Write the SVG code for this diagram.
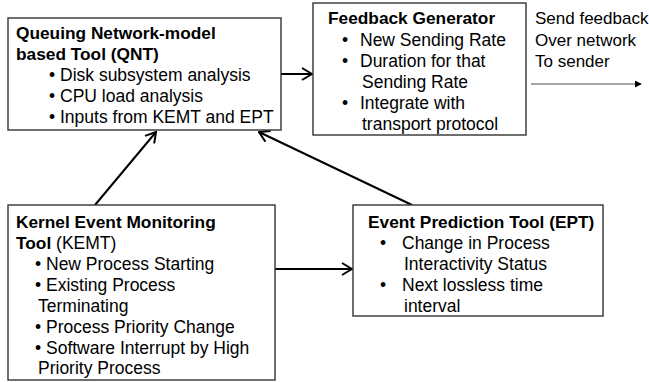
<svg xmlns="http://www.w3.org/2000/svg" width="649" height="382" viewBox="0 0 649 382">
<defs>
<style>
text{font-family:"Liberation Sans",Arial,sans-serif;font-size:17.5px;fill:#000}
.b{font-weight:bold;font-size:17.3px}
.side{font-size:17px}
.box{fill:#fff;stroke:#333;stroke-width:1.4}
.conn{stroke:#000;stroke-width:2;fill:none}
.send{stroke:#888;stroke-width:1.5;fill:none}
</style>
<marker id="open" viewBox="0 0 12 14" refX="11" refY="7" markerWidth="12" markerHeight="14" markerUnits="userSpaceOnUse" orient="auto">
<path d="M1,1 L11,7 L1,13" fill="none" stroke="#000" stroke-width="2"/>
</marker>
<marker id="solid" viewBox="0 0 8 8" refX="7" refY="4" markerWidth="7" markerHeight="7" markerUnits="userSpaceOnUse" orient="auto">
<path d="M0,0 L8,4 L0,8 Z" fill="#000"/>
</marker>
</defs>

<g id="connectors">
<line class="conn" x1="281" y1="74" x2="312" y2="74" marker-end="url(#open)"/>
<line class="conn" x1="95" y1="205" x2="156" y2="132" marker-end="url(#open)"/>
<line class="conn" x1="412" y1="205" x2="259" y2="132" marker-end="url(#open)"/>
<line class="conn" x1="275" y1="269" x2="352" y2="269" marker-end="url(#open)"/>
<line class="send" x1="531" y1="84" x2="641" y2="84" marker-end="url(#solid)"/>
</g>

<g id="qnt">
<rect class="box" x="8" y="18" width="273" height="112"/>
<text class="b" x="16" y="39">Queuing Network-model</text>
<text class="b" x="16" y="60">based Tool (QNT)</text>
<text x="49" y="81">• Disk subsystem analysis</text>
<text x="49" y="102">• CPU load analysis</text>
<text x="49" y="123">• Inputs from KEMT and EPT</text>
</g>

<g id="feedback">
<rect class="box" x="313" y="3" width="213" height="132"/>
<text class="b" x="328" y="24">Feedback Generator</text>
<text x="342" y="46">•</text><text x="360" y="46">New Sending Rate</text>
<text x="342" y="67">•</text><text x="360" y="67">Duration for that</text>
<text x="362" y="88">Sending Rate</text>
<text x="342" y="109">•</text><text x="360" y="109">Integrate with</text>
<text x="362" y="130">transport protocol</text>
</g>

<g id="send-label">
<text class="side" x="535" y="24">Send feedback</text>
<text class="side" x="535" y="46">Over network</text>
<text class="side" x="535" y="67">To sender</text>
</g>

<g id="kemt">
<rect class="box" x="8" y="205" width="267" height="175"/>
<text x="16" y="228"><tspan class="b">Kernel Event Monitoring</tspan></text>
<text x="16" y="249"><tspan class="b">Tool</tspan> (KEMT)</text>
<text x="35" y="270">• New Process Starting</text>
<text x="35" y="291">• Existing Process</text>
<text x="38" y="312">Terminating</text>
<text x="35" y="333">• Process Priority Change</text>
<text x="35" y="354">• Software Interrupt by High</text>
<text x="38" y="374">Priority Process</text>
</g>

<g id="ept">
<rect class="box" x="353" y="205" width="250" height="111"/>
<text class="b" x="368" y="228">Event Prediction Tool (EPT)</text>
<text x="380" y="249">•</text><text x="402" y="249">Change in Process</text>
<text x="404" y="270">Interactivity Status</text>
<text x="380" y="291">•</text><text x="402" y="291">Next lossless time</text>
<text x="404" y="312">interval</text>
</g>
</svg>
